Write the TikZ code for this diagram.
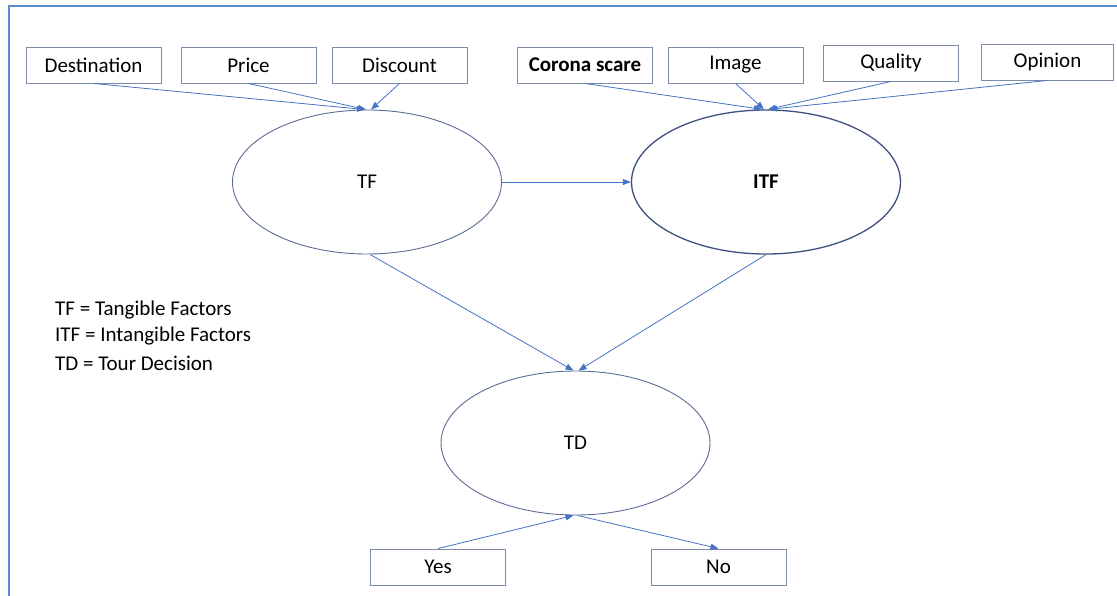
\documentclass[tikz,border=0pt]{standalone}
\usepackage{fontspec}
\setmainfont{Carlito}
\usetikzlibrary{shapes.geometric,arrows.meta,calc}
\definecolor{framecol}{HTML}{5B8BD0}
\definecolor{linecol}{HTML}{4472C4}
\definecolor{boxcol}{HTML}{7F8CA8}
\definecolor{ellcol}{HTML}{5A6B95}
\definecolor{ellcoldark}{HTML}{3E5080}
\begin{document}
\begin{tikzpicture}[x=1pt,y=-1pt,
  every node/.style={font=\fontsize{21}{25}\selectfont},
  factorbox/.style={draw=boxcol,line width=0.9pt,minimum width=135pt,minimum height=36pt,inner sep=0pt},
  construct/.style={ellipse,draw=ellcol,line width=0.9pt,minimum width=269pt,minimum height=144pt,inner sep=0pt},
  link/.style={draw=linecol,line width=0.8pt,-{Triangle[length=8pt,width=6pt]}},
  legend/.style={anchor=west,inner sep=0pt}]
\useasboundingbox (0,0) rectangle (1117,595);
% frame
\draw[framecol,line width=2.6pt] (9,596) -- (9,6) -- (1118,6);
% top boxes
\node[factorbox] (dest) at (93.5,65) {Destination};
\node[factorbox] (price) at (248.5,65) {Price};
\node[factorbox] (disc) at (399.5,65) {Discount};
\node[factorbox,font=\fontsize{21}{25}\selectfont\bfseries] (corona) at (585,65) {Corona scare};
\node[factorbox] (image) at (735.5,65) {Image};
\node[factorbox] (quality) at (891,63) {Quality};
\node[factorbox,minimum width=132pt] (opinion) at (1047.5,62) {Opinion};
% ellipses
\node[construct] (tf) at (367,182) {TF};
\node[construct,draw=ellcoldark,line width=1.3pt,font=\fontsize{21}{25}\selectfont\bfseries] (itf) at (766,182) {ITF};
\node[construct] (td) at (575.5,443) {TD};
% bottom boxes
\node[factorbox] (yes) at (438,567) {Yes};
\node[factorbox] (no) at (718.5,567) {No};
% legend
\node[legend] (l1) at (55,310) {TF = Tangible Factors};
\node[legend] (l2) at (55,336.5) {ITF = Intangible Factors};
\node[legend] (l3) at (55,363) {TD = Tour Decision};
% connectors
\draw[link] (dest.south) -- ($(tf.north)+(-2,0)$);
\draw[link] (price.south) -- ($(tf.north)+(-1,0)$);
\draw[link] (disc.south) -- ($(tf.north)+(4,0)$);
\draw[link] (corona.south) -- ($(itf.north)+(-4,0)$);
\draw[link] (image.south) -- ($(itf.north)+(-2,0)$);
\draw[link] (quality.south) -- ($(itf.north)+(2,0)$);
\draw[link] (opinion.south) -- ($(itf.north)+(3,0)$);
\draw[link] (tf.east) -- (itf.west);
\draw[link] ($(tf.south)+(3,0)$) -- ($(td.north)+(-2,0)$);
\draw[link] (itf.south) -- ($(td.north)+(3,0)$);
\draw[link] (yes.north) -- ($(td.south)+(-2,0)$);
\draw[link] ($(td.south)+(2,0)$) -- (no.north);
\end{tikzpicture}
\end{document}
